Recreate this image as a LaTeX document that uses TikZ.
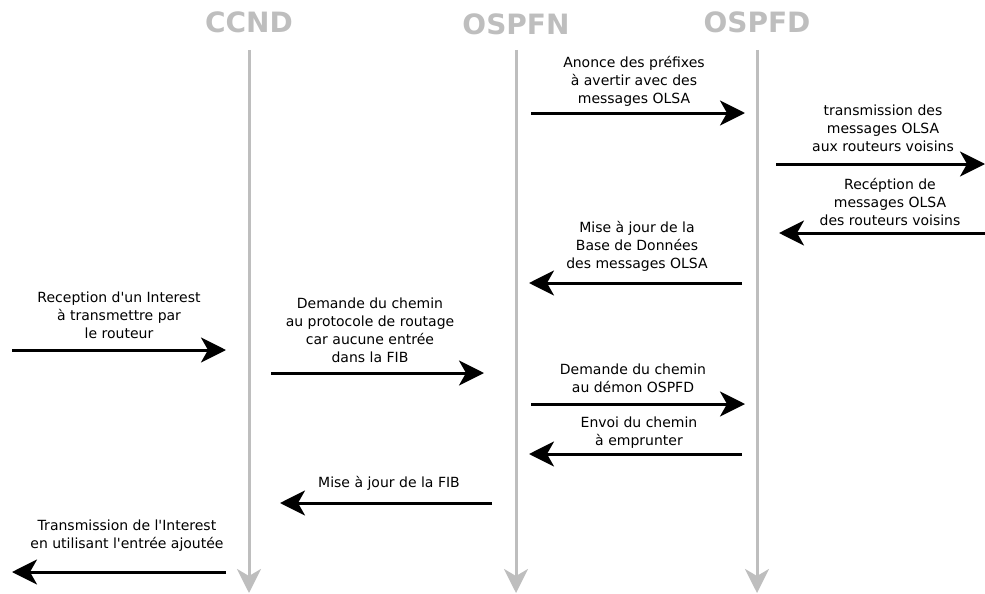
\documentclass[tikz,border=0pt]{standalone}
\usepackage{fontspec}
\setmainfont{DejaVu Sans}
\usetikzlibrary{arrows.meta}
\definecolor{lifegray}{RGB}{190,190,190}
\newcommand{\msgfont}{\fontsize{14}{18}\selectfont}

\begin{document}
\begin{tikzpicture}[x=1pt, y=-1pt]
    \tikzset{
        actor/.style={
            text=lifegray, inner sep=0pt,
            font=\fontsize{28}{30}\selectfont\bfseries
        },
        lifeline/.style={
            draw=lifegray, line width=3pt,
            -{Stealth[length=24pt, width=24pt, inset=7pt]}
        },
        msg/.style={
            draw=black, line width=3pt,
            -{Stealth[length=25pt, width=25pt, inset=7pt]}
        },
        lbl/.style={align=center, font=\msgfont, inner sep=0pt},
    }
    \useasboundingbox (0,0) rectangle (985,594);

    % ==== Actors and lifelines ====
    \node[actor] (ccnd)  at (249,22) {CCND};
    \node[actor] (ospfn) at (516,24) {OSPFN};
    \node[actor] (ospfd) at (757,22) {OSPFD};

    \coordinate (ccndtop)  at (249,50);
    \coordinate (ccndbot)  at (249,593);
    \coordinate (ospfntop) at (516,50);
    \coordinate (ospfnbot) at (516,593);
    \coordinate (ospfdtop) at (757,50);
    \coordinate (ospfdbot) at (757,593);

    \draw[lifeline] (ccndtop) -- (ccndbot);
    \draw[lifeline] (ospfntop) -- (ospfnbot);
    \draw[lifeline] (ospfdtop) -- (ospfdbot);

    % ==== Message end points ====
    \coordinate (m1s)  at (531,113);  \coordinate (m1e)  at (745,113);
    \coordinate (m2s)  at (776,164);  \coordinate (m2e)  at (985,164);
    \coordinate (m3s)  at (985,233);  \coordinate (m3e)  at (779,233);
    \coordinate (m4s)  at (742,283);  \coordinate (m4e)  at (529,283);
    \coordinate (m5s)  at (12,350);   \coordinate (m5e)  at (226,350);
    \coordinate (m6s)  at (271,373);  \coordinate (m6e)  at (484,373);
    \coordinate (m7s)  at (531,404);  \coordinate (m7e)  at (745,404);
    \coordinate (m8s)  at (742,454);  \coordinate (m8e)  at (529,454);
    \coordinate (m9s)  at (492,503);  \coordinate (m9e)  at (280,503);
    \coordinate (m10s) at (226,572);  \coordinate (m10e) at (12,572);

    \foreach \i in {1,...,10}
        \draw[msg] (m\i s) -- (m\i e);

    % ==== Message labels ====
    \node[lbl] (l1) at (634,81)
        {Anonce des préfixes\\à avertir avec des\\messages OLSA};
    \node[lbl] (l2) at (883,128.5)
        {transmission des\\messages OLSA\\aux routeurs voisins};
    \node[lbl] (l3) at (890,201.5)
        {Recéption de\\messages OLSA\\des routeurs voisins};
    \node[lbl] (l4) at (637,246)
        {Mise à jour de la\\Base de Données\\des messages OLSA};
    \node[lbl] (l5) at (119,315)
        {Reception d\textquotesingle un Interest\\à transmettre par\\le routeur};
    \node[lbl] (l6) at (370,330.5)
        {Demande du chemin\\au protocole de routage\\car aucune entrée\\dans la FIB};
    \node[lbl] (l7) at (633,378.5)
        {Demande du chemin\\au démon OSPFD};
    \node[lbl] (l8) at (639,432.5)
        {Envoi du chemin\\à emprunter};
    \node[lbl] (l9) at (389,483)
        {Mise à jour de la FIB};
    \node[lbl] (l10) at (127,535.5)
        {Transmission de l\textquotesingle Interest\\en utilisant l\textquotesingle entrée ajoutée};
\end{tikzpicture}
\end{document}
